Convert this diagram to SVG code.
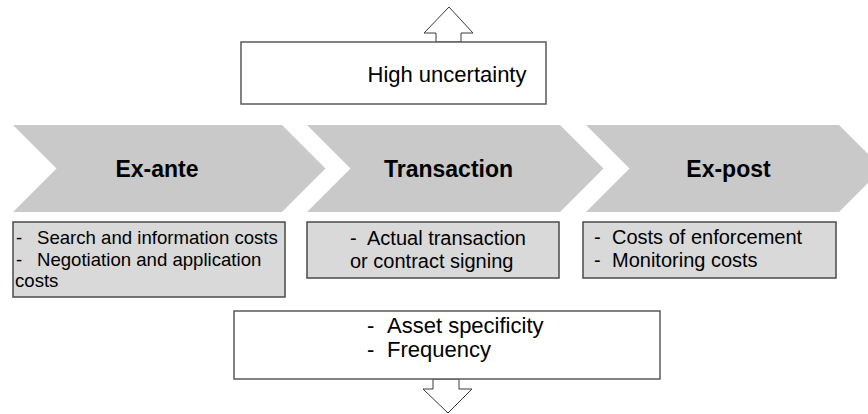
<svg xmlns="http://www.w3.org/2000/svg" width="868" height="414" viewBox="0 0 868 414">
<style>
.chev{fill:#c9c9c9;stroke:none}
.box{fill:#d9d9d9;stroke:#4a4a4a;stroke-width:1.5}
.wbox{fill:#ffffff;stroke:#5a5a5a;stroke-width:1.5}
.arr{fill:#ffffff;stroke:#3a3a3a;stroke-width:1}
.t{font-family:"Liberation Sans",Arial,sans-serif;fill:#000}
.h{font-size:23px;font-weight:bold;text-anchor:middle}
.s{font-size:20px}
.s1{font-size:18.6px}
.l{font-size:22px}
</style>
<rect width="868" height="414" fill="#ffffff"/>
<g id="connectors">
<polygon class="arr" points="436,42 436,33 424,33 449,7 473,33 461,33 461,42"/>
<polygon class="arr" points="433,379 433,389 423,389 448,413 472,389 459,389 459,379"/>
</g>
<g id="high-uncertainty">
<rect class="wbox" x="241" y="42" width="305" height="62"/>
<text class="t l" x="447" y="82" text-anchor="middle">High uncertainty</text>
</g>
<g id="ex-ante">
<polygon class="chev" points="13,125 282,125 325.5,168.5 282,212 13,212 56.5,168.5"/>
<text class="t h" x="157" y="177">Ex-ante</text>
</g>
<g id="transaction">
<polygon class="chev" points="307,125 560,125 603.5,168.5 560,212 307,212 350.5,168.5"/>
<text class="t h" x="448.5" y="177">Transaction</text>
</g>
<g id="ex-post">
<polygon class="chev" points="586,125 839,125 882.5,168.5 839,212 586,212 629.5,168.5"/>
<text class="t h" x="728.5" y="177">Ex-post</text>
</g>
<g id="ex-ante-costs">
<rect class="box" x="13" y="222" width="272" height="75"/>
<text class="t s1" y="244"><tspan x="16">-</tspan><tspan x="37">Search and information costs</tspan></text>
<text class="t s1" y="266"><tspan x="16">-</tspan><tspan x="37">Negotiation and application</tspan></text>
<text class="t s1" x="15" y="287">costs</text>
</g>
<g id="transaction-costs">
<rect class="box" x="307" y="222" width="252" height="56"/>
<text class="t s" y="245"><tspan x="350">-</tspan><tspan x="367">Actual transaction</tspan></text>
<text class="t s" x="350" y="268">or contract signing</text>
</g>
<g id="ex-post-costs">
<rect class="box" x="583" y="222" width="253" height="56"/>
<text class="t s" y="244"><tspan x="594">-</tspan><tspan x="612">Costs of enforcement</tspan></text>
<text class="t s" y="267"><tspan x="594">-</tspan><tspan x="612">Monitoring costs</tspan></text>
</g>
<g id="asset-frequency">
<rect class="wbox" x="234" y="311" width="426" height="68"/>
<text class="t l" y="333"><tspan x="367">-</tspan><tspan x="387">Asset specificity</tspan></text>
<text class="t l" y="357"><tspan x="367">-</tspan><tspan x="387">Frequency</tspan></text>
</g>
</svg>
